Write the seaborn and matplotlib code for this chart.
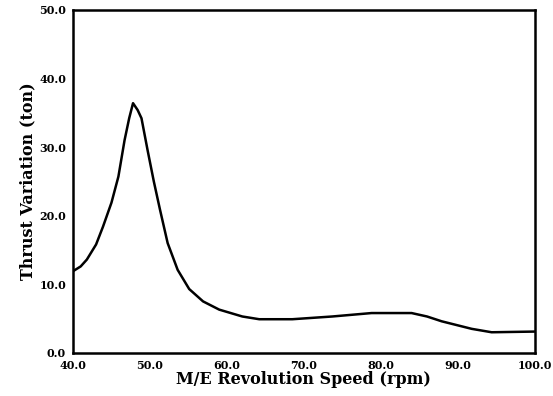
import numpy as np
import pandas as pd
import matplotlib
matplotlib.use("Agg")
import matplotlib.pyplot as plt
import seaborn as sns

# values
speed = [40.0, 41.0, 41.8, 43.0, 43.9, 45.0, 45.9, 46.7, 47.3, 47.8, 48.4, 48.9,
         49.7, 50.5, 51.3, 52.3, 53.6, 55.1, 56.9, 59.0, 62.0, 64.2, 68.5, 73.7,
         78.8, 84.0, 86.0, 87.9, 91.8, 94.4, 100.0]
thrust = [11.9, 12.6, 13.6, 15.8, 18.4, 21.9, 25.7, 31.0, 34.2, 36.4, 35.4, 34.2,
          29.5, 25.0, 20.9, 16.0, 12.1, 9.3, 7.5, 6.3, 5.3, 4.9, 4.9, 5.3,
          5.8, 5.8, 5.3, 4.6, 3.5, 3.0, 3.1]
xticks = [40, 50, 60, 70, 80, 90, 100]
yticks = [0, 10, 20, 30, 40, 50]

df = pd.DataFrame({"speed": speed, "thrust": thrust})

sns.set_style("white")
plt.rcParams["font.family"] = ["DejaVu Serif"]
plt.rcParams["font.weight"] = "bold"

fig = plt.figure(figsize=(5.53, 3.96), dpi=100)
ax = fig.add_axes([0.132, 0.109, 0.835, 0.866])

sns.lineplot(data=df, x="speed", y="thrust", color="black", linewidth=1.8, ax=ax)

ax.set_xlim(40, 100)
ax.set_ylim(0, 50)
ax.set_xticks(xticks)
ax.set_yticks(yticks)
ax.set_xticklabels([f"{v:.1f}" for v in xticks], fontsize=8, fontweight="bold")
ax.set_yticklabels([f"{v:.1f}" for v in yticks], fontsize=8, fontweight="bold")
ax.tick_params(direction="out", length=4, width=1.5, pad=1, colors="black")
for s in ax.spines.values():
    s.set_linewidth(1.8)
    s.set_color("black")

ax.set_xlabel("M/E Revolution Speed (rpm)", fontsize=11.5, fontweight="bold",
              labelpad=0, color="black")
ax.set_ylabel("Thrust Variation (ton)", fontsize=11.5, fontweight="bold",
              labelpad=2, color="black")

plt.savefig("out.png", dpi=100)
